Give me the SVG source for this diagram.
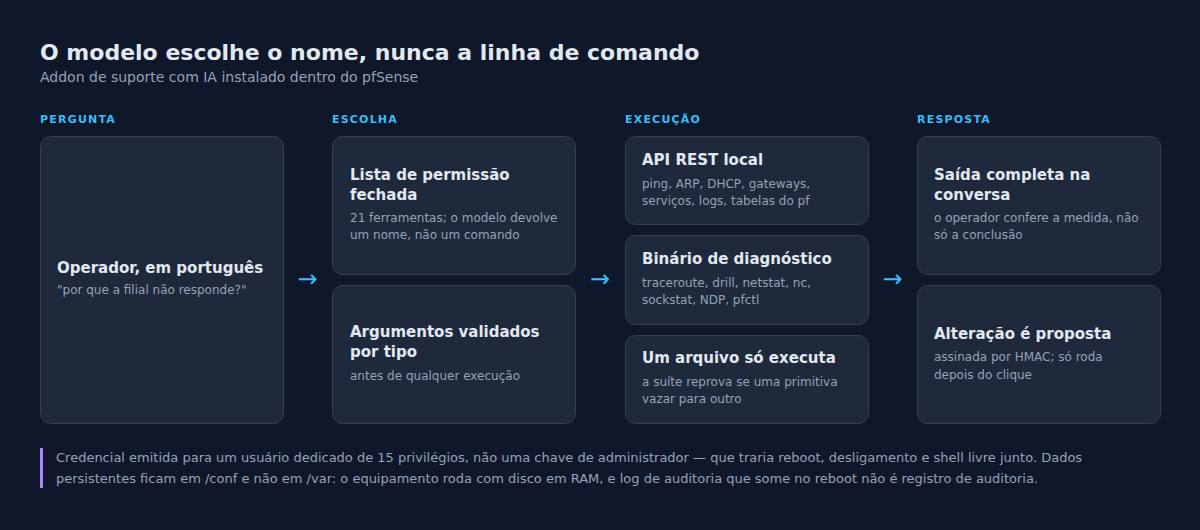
<svg xmlns="http://www.w3.org/2000/svg" width="1200" height="530" viewBox="0 0 1200 530">
<style>
text{font-family:"DejaVu Sans",sans-serif}
.t{font-size:22px;font-weight:bold;fill:#e2e8f0}
.st{font-size:14px;fill:#94a3b8}
.sec{font-size:11px;font-weight:bold;fill:#38bdf8;letter-spacing:1.2px}
.box{fill:#1e293b;stroke:#334155;stroke-width:1}
.h{font-size:15px;font-weight:bold;fill:#e2e8f0}
.d{font-size:12px;fill:#94a3b8}
.arr{font-size:24px;fill:#38bdf8;text-anchor:middle}
.f{font-size:13px;fill:#94a3b8}
</style>
<rect width="1200" height="530" fill="#0f172a"/>
<text class="t" x="40" y="60">O modelo escolhe o nome, nunca a linha de comando</text>
<text class="st" x="40" y="82">Addon de suporte com IA instalado dentro do pfSense</text>
<text class="sec" x="40" y="123">PERGUNTA</text>
<text class="sec" x="332" y="123">ESCOLHA</text>
<text class="sec" x="625" y="123">EXECUÇÃO</text>
<text class="sec" x="917" y="123">RESPOSTA</text>
<g id="operador">
<rect class="box" x="40.5" y="136.5" width="243" height="287" rx="10"/>
<text class="h" x="57" y="273">Operador, em português</text>
<text class="d" x="57" y="294">"por que a filial não responde?"</text>
</g>
<g id="lista">
<rect class="box" x="332.5" y="136.5" width="243" height="138" rx="10"/>
<text class="h" x="350" y="180">Lista de permissão</text>
<text class="h" x="350" y="200">fechada</text>
<text class="d" x="350" y="222">21 ferramentas; o modelo devolve</text>
<text class="d" x="350" y="239">um nome, não um comando</text>
</g>
<g id="argumentos">
<rect class="box" x="332.5" y="285.5" width="243" height="138" rx="10"/>
<text class="h" x="350" y="337">Argumentos validados</text>
<text class="h" x="350" y="357">por tipo</text>
<text class="d" x="350" y="380">antes de qualquer execução</text>
</g>
<g id="api">
<rect class="box" x="625.5" y="136.5" width="243" height="88" rx="10"/>
<text class="h" x="642" y="165">API REST local</text>
<text class="d" x="642" y="188">ping, ARP, DHCP, gateways,</text>
<text class="d" x="642" y="205">serviços, logs, tabelas do pf</text>
</g>
<g id="binario">
<rect class="box" x="625.5" y="235.5" width="243" height="89" rx="10"/>
<text class="h" x="642" y="264">Binário de diagnóstico</text>
<text class="d" x="642" y="287">traceroute, drill, netstat, nc,</text>
<text class="d" x="642" y="304">sockstat, NDP, pfctl</text>
</g>
<g id="arquivo">
<rect class="box" x="625.5" y="335.5" width="243" height="88" rx="10"/>
<text class="h" x="642" y="363">Um arquivo só executa</text>
<text class="d" x="642" y="386">a suíte reprova se uma primitiva</text>
<text class="d" x="642" y="403">vazar para outro</text>
</g>
<g id="saida">
<rect class="box" x="917.5" y="136.5" width="243" height="138" rx="10"/>
<text class="h" x="934" y="180">Saída completa na</text>
<text class="h" x="934" y="200">conversa</text>
<text class="d" x="934" y="222">o operador confere a medida, não</text>
<text class="d" x="934" y="239">só a conclusão</text>
</g>
<g id="alteracao">
<rect class="box" x="917.5" y="285.5" width="243" height="138" rx="10"/>
<text class="h" x="934" y="339">Alteração é proposta</text>
<text class="d" x="934" y="361">assinada por HMAC; só roda</text>
<text class="d" x="934" y="379">depois do clique</text>
</g>
<g id="connectors">
<text class="arr" x="307.5" y="287">→</text>
<text class="arr" x="600" y="287">→</text>
<text class="arr" x="892.5" y="287">→</text>
</g>
<rect x="40" y="448" width="3" height="40" fill="#a78bfa"/>
<text class="f" x="56" y="462">Credencial emitida para um usuário dedicado de 15 privilégios, não uma chave de administrador — que traria reboot, desligamento e shell livre junto. Dados</text>
<text class="f" x="56" y="483">persistentes ficam em /conf e não em /var: o equipamento roda com disco em RAM, e log de auditoria que some no reboot não é registro de auditoria.</text>
</svg>
